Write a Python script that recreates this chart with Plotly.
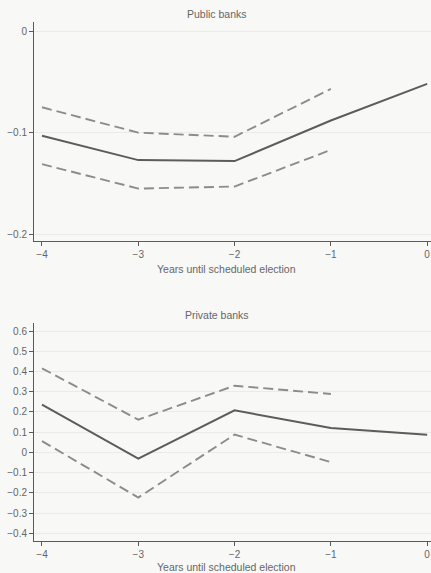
import plotly.graph_objects as go

years = [-4, -3, -2, -1, 0]
ci_years = [-4, -3, -2, -1]

public_est = [-0.103, -0.127, -0.128, -0.088, -0.052]
public_upper = [-0.075, -0.100, -0.104, -0.057]
public_lower = [-0.131, -0.155, -0.153, -0.117]

private_est = [0.236, -0.031, 0.208, 0.121, 0.088]
private_upper = [0.416, 0.162, 0.330, 0.289]
private_lower = [0.056, -0.223, 0.088, -0.048]

x_ticks = [-4, -3, -2, -1, 0]
public_yticks = [0, -0.1, -0.2]
private_yticks = [0.6, 0.5, 0.4, 0.3, 0.2, 0.1, 0, -0.1, -0.2, -0.3, -0.4]

W, H = 431, 573
solid_col = "#5c5c5c"
dash_col = "#8c8c8c"
text_col = "#666666"
axis_col = "#5a5a5a"
grid_col = "#ebebeb"

fig = go.Figure()

def add_panel(est, up, lo, xa, ya):
    fig.add_trace(go.Scatter(x=ci_years, y=up, mode="lines", xaxis=xa, yaxis=ya,
                             line=dict(color=dash_col, width=1.9, dash="10px,5px"), showlegend=False))
    fig.add_trace(go.Scatter(x=ci_years, y=lo, mode="lines", xaxis=xa, yaxis=ya,
                             line=dict(color=dash_col, width=1.9, dash="10px,5px"), showlegend=False))
    fig.add_trace(go.Scatter(x=years, y=est, mode="lines", xaxis=xa, yaxis=ya,
                             line=dict(color=solid_col, width=2), showlegend=False))

add_panel(public_est, public_upper, public_lower, "x", "y")
add_panel(private_est, private_upper, private_lower, "x2", "y2")

def py(p):
    return 1 - p / H

tickfont = dict(family="Liberation Sans, Arial, sans-serif", size=10, color=text_col)

xcommon = dict(range=[-4.083, 0.04], tickmode="array", tickvals=x_ticks,
               ticktext=["\u22124", "\u22123", "\u22122", "\u22121", "0"],
               ticks="outside", ticklen=4, tickcolor=axis_col, tickwidth=1,
               showline=True, linecolor=axis_col, linewidth=1, showgrid=False,
               zeroline=False, tickfont=tickfont, automargin=False, domain=[0, 1],
               ticklabeloverflow="allow")

def yfmt(v):
    if v == 0:
        return "0"
    s = f"{abs(v):.1f}"
    return ("\u2212" if v < 0 else "") + s

ycommon = dict(ticks="outside", ticklen=4, tickcolor=axis_col, tickwidth=1,
               showline=True, linecolor=axis_col, linewidth=1, showgrid=True,
               gridcolor=grid_col, gridwidth=1, zeroline=False, tickfont=tickfont,
               automargin=False)

fig.update_layout(
    width=W, height=H,
    margin=dict(l=34, r=0, t=0, b=0),
    paper_bgcolor="#f8f8f6", plot_bgcolor="#f8f8f6",
    xaxis=dict(**xcommon, anchor="y"),
    xaxis2=dict(**xcommon, anchor="y2"),
    yaxis=dict(**ycommon, range=[-0.2066, 0.0089], domain=[py(241), py(22)],
               tickmode="array", tickvals=public_yticks,
               ticktext=[yfmt(v) for v in public_yticks], anchor="x"),
    yaxis2=dict(**ycommon, range=[-0.438, 0.64], domain=[py(541), py(323)],
                tickmode="array", tickvals=private_yticks,
                ticktext=[yfmt(v) for v in private_yticks], anchor="x2"),
    showlegend=False,
)

afont = dict(family="Liberation Sans, Arial, sans-serif", size=10.5, color=text_col)
for text, xc, yc in [("Public banks", 216.5, 14), ("Years until scheduled election", 226, 268.5),
                     ("Private banks", 216.5, 314.5), ("Years until scheduled election", 226, 567)]:
    fig.add_annotation(text=text, xref="paper", yref="paper",
                       x=(xc - 34) / (W - 34), y=py(yc), xanchor="center", yanchor="middle",
                       showarrow=False, font=afont)

fig.write_html(
    "out.html",
    config={"displayModeBar": False},
    post_script="document.body.style.margin='0';document.body.style.padding='0';"
                "document.documentElement.style.background='#f8f8f6';"
                "document.body.style.overflow='hidden';",
)
